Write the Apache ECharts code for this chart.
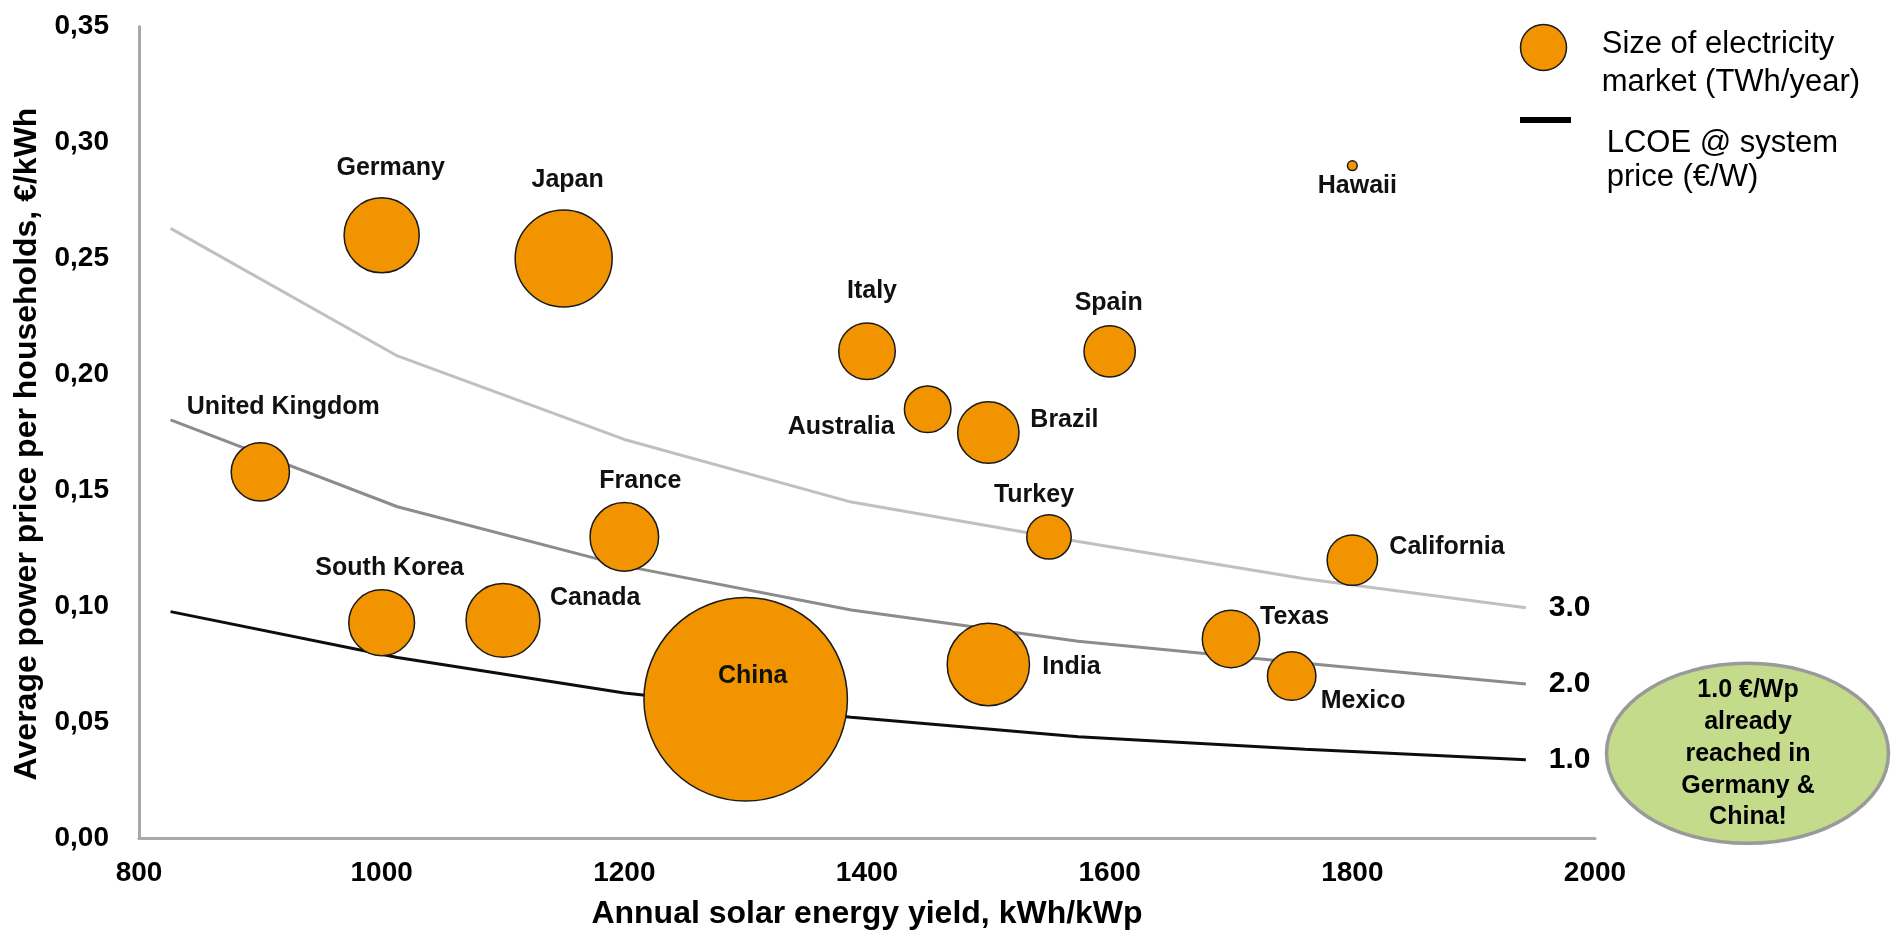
<!DOCTYPE html>
<html>
<head>
<meta charset="utf-8">
<title>Solar yield vs household power price</title>
<script src="https://cdn.jsdelivr.net/npm/echarts@6/dist/echarts.min.js"></script>
<style>
  html, body { margin: 0; padding: 0; background: #fff; }
  #chart { width: 1892px; height: 936px; }
</style>
</head>
<body>
<div id="chart"></div>
<script>
// Markets: annual solar yield (kWh/kWp), household power price (EUR/kWh), market size (TWh/year)
const countries   = ['Germany', 'Japan', 'United Kingdom', 'France', 'South Korea', 'Canada', 'China',
                     'Italy', 'Australia', 'Brazil', 'Spain', 'Turkey', 'India', 'Hawaii',
                     'California', 'Texas', 'Mexico'];
const solarYield  = [1000, 1150, 900, 1200, 1000, 1100, 1300, 1400, 1450, 1500, 1600, 1550, 1500, 1800, 1800, 1700, 1750];
const powerPrice  = [0.26, 0.25, 0.158, 0.13, 0.093, 0.094, 0.06, 0.21, 0.185, 0.175, 0.21, 0.13, 0.075, 0.29, 0.12, 0.086, 0.07];
const marketSize  = [600, 1000, 360, 500, 460, 580, 4400, 340, 230, 400, 280, 210, 720, 10, 270, 350, 250];

// LCOE curves for three system prices (EUR/W)
const lcoeYield   = [826, 1013, 1200, 1387, 1574, 1761, 1943];
const lcoeAt3     = [0.263, 0.208, 0.172, 0.145, 0.128, 0.112, 0.0995];
const lcoeAt2     = [0.1804, 0.143, 0.1175, 0.0985, 0.085, 0.0755, 0.0666];
const lcoeAt1     = [0.0978, 0.078, 0.0627, 0.0523, 0.0439, 0.0385, 0.0339];
const systemPrice = ['3.0', '2.0', '1.0'];

// Axis ticks
const xMin = 800, xMax = 2000, xStep = 200;
const yMin = 0, yMax = 0.35, yStep = 0.05;

// Where each country name sits relative to its bubble centre: [align, dx, dy]
const labelPlacement = {
  'Germany':        ['center', 9, -67],
  'Japan':          ['center', 4, -78],
  'United Kingdom': ['center', 23, -65],
  'France':         ['center', 16, -56],
  'South Korea':    ['center', 8, -55],
  'Canada':         ['left', 47, -22],
  'China':          ['center', 7, -23],
  'Italy':          ['center', 5, -60],
  'Australia':      ['right', -33, 18],
  'Brazil':         ['left', 42, -12],
  'Spain':          ['center', -1, -48],
  'Turkey':         ['center', -15, -42],
  'India':          ['left', 54, 3],
  'Hawaii':         ['center', 5, 20],
  'California':     ['left', 37, -13],
  'Texas':          ['left', 29, -22],
  'Mexico':         ['left', 29, 25]
};

const FONT = "'Liberation Sans', Arial, Helvetica, sans-serif";
const ORANGE = '#F29400';
const lineColors = ['#C0C0C0', '#8C8C8C', '#0D0D0D'];

const bubbleData = countries.map((name, i) => {
  const p = labelPlacement[name];
  return {
    name: name,
    value: [solarYield[i], powerPrice[i], marketSize[i]],
    label: { align: p[0], offset: [p[1], p[2]] }
  };
});

const curves = [lcoeAt3, lcoeAt2, lcoeAt1].map((vals, k) => ({
  type: 'line',
  name: systemPrice[k],
  data: lcoeYield.map((x, i) => [x, vals[i]]),
  showSymbol: false,
  symbol: 'none',
  silent: true,
  z: 1,
  lineStyle: { color: lineColors[k], width: 3 },
  endLabel: {
    show: true,
    formatter: '{a}',
    distance: 23,
    fontFamily: FONT,
    fontSize: 30,
    fontWeight: 'bold',
    color: '#000'
  },
  emphasis: { disabled: true }
}));

const chart = echarts.init(document.getElementById('chart'), null, { renderer: 'canvas' });

chart.setOption({
  animation: false,
  backgroundColor: '#fff',
  textStyle: { fontFamily: FONT },
  grid: {
    left: 139, right: 297, top: 26.5, bottom: 97.5,
    outerBoundsMode: 'none'
  },
  xAxis: {
    type: 'value',
    min: xMin, max: xMax, interval: xStep,
    name: 'Annual solar energy yield, kWh/kWp',
    nameLocation: 'middle',
    nameGap: 60,
    nameTextStyle: { fontFamily: FONT, fontSize: 32, fontWeight: 'bold', color: '#000' },
    axisLine: { show: true, lineStyle: { color: '#A8A8A8', width: 3 } },
    axisTick: { show: false },
    splitLine: { show: false },
    axisLabel: {
      fontFamily: FONT, fontSize: 28, fontWeight: 'bold', color: '#000', margin: 21,
      formatter: v => String(v)
    }
  },
  yAxis: {
    type: 'value',
    min: yMin, max: yMax, interval: yStep,
    name: 'Average power price per households, €/kWh',
    nameLocation: 'middle',
    nameGap: 96,
    nameTextStyle: { fontFamily: FONT, fontSize: 32, fontWeight: 'bold', color: '#000', padding: [0, 23, 0, 0] },
    axisLine: { show: true, lineStyle: { color: '#A8A8A8', width: 3 } },
    axisTick: { show: false },
    splitLine: { show: false },
    axisLabel: {
      fontFamily: FONT, fontSize: 28, fontWeight: 'bold', color: '#000', margin: 30,
      formatter: v => v.toFixed(2).replace('.', ',')
    }
  },
  series: curves.concat([{
    type: 'scatter',
    name: 'Size of electricity market (TWh/year)',
    data: bubbleData,
    z: 5,
    symbolSize: v => 3.067 * Math.sqrt(v[2]),
    itemStyle: { color: ORANGE, borderColor: '#1A1A1A', borderWidth: 1.5, opacity: 1 },
    label: {
      show: true,
      position: 'inside',
      formatter: '{b}',
      verticalAlign: 'middle',
      fontFamily: FONT,
      fontSize: 25,
      fontWeight: 'bold',
      color: '#111'
    },
    emphasis: { disabled: true }
  }]),
  graphic: [
    // legend: bubble
    { type: 'circle', shape: { cx: 1543.5, cy: 47.5, r: 23 },
      style: { fill: ORANGE, stroke: '#1A1A1A', lineWidth: 1.5 } },
    { type: 'text', x: 1601.7, y: 25,
      style: { text: 'Size of electricity\nmarket (TWh/year)', fontFamily: FONT, fontSize: 31,
               lineHeight: 38.5, fill: '#000', align: 'left', verticalAlign: 'top' } },
    // legend: LCOE line
    { type: 'rect', shape: { x: 1520, y: 117, width: 51, height: 6 }, style: { fill: '#000' } },
    { type: 'text', x: 1606.7, y: 126,
      style: { text: 'LCOE @ system\nprice (€/W)', fontFamily: FONT, fontSize: 31,
               lineHeight: 34, fill: '#000', align: 'left', verticalAlign: 'top' } },
    // callout
    { type: 'ellipse', shape: { cx: 1747.5, cy: 753.3, rx: 141, ry: 90 },
      style: { fill: '#C4DB8B', stroke: '#9A9A9A', lineWidth: 3.5 } },
    { type: 'text', x: 1748, y: 754,
      style: { text: '1.0 €/Wp\nalready\nreached in\nGermany &\nChina!', fontFamily: FONT,
               fontSize: 25, fontWeight: 'bold', lineHeight: 31.7, fill: '#000',
               align: 'center', verticalAlign: 'middle' } }
  ]
});
</script>
</body>
</html>
